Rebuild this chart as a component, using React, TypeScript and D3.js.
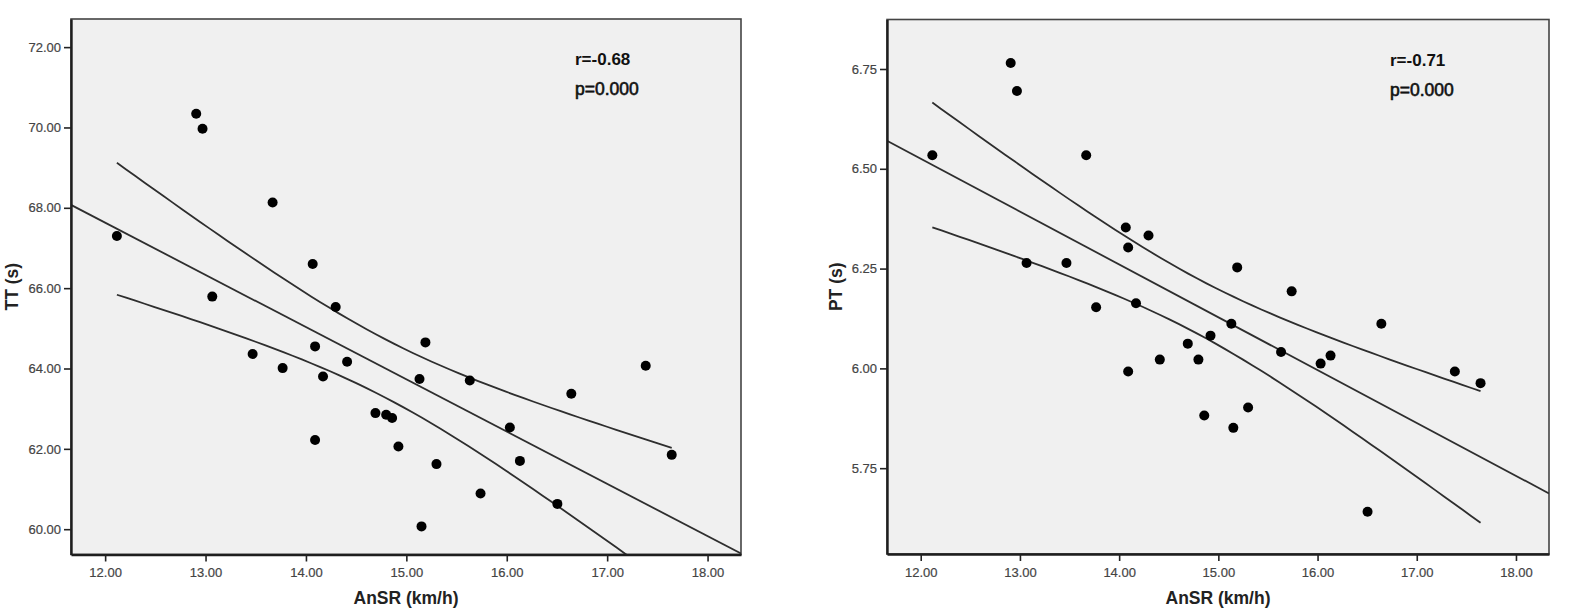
import { useEffect, useRef } from 'react';
import * as d3 from 'd3';

// AnSR (km/h), same athletes in both panels
const ansr = [
  12.117, 12.907, 12.970, 13.067, 13.469, 13.668, 13.768, 14.067, 14.091, 14.091,
  14.170, 14.296, 14.410, 14.692, 14.799, 14.858, 14.921, 15.131, 15.151, 15.190,
  15.300, 15.632, 15.739, 16.031, 16.131, 16.504, 16.643, 17.384, 17.643,
];

// TT (s)
const tt = [
  67.30, 70.34, 69.97, 65.79, 64.36, 68.13, 64.01, 66.60, 64.55, 62.22,
  63.80, 65.53, 64.17, 62.89, 62.85, 62.77, 62.06, 63.74, 60.07, 64.65,
  61.62, 63.70, 60.89, 62.53, 61.70, 60.63, 63.37, 64.07, 61.85,
];

// PT (s)
const pt = [
  6.534, 6.765, 6.695, 6.264, 6.264, 6.534, 6.153, 6.353, 6.303, 5.992,
  6.163, 6.333, 6.022, 6.062, 6.022, 5.882, 6.082, 6.112, 5.851, 6.253,
  5.902, 6.041, 6.193, 6.012, 6.032, 5.641, 6.112, 5.992, 5.963,
];

const xTicks = [12, 13, 14, 15, 16, 17, 18];
const ttTicks = [60, 62, 64, 66, 68, 70, 72];
const ptTicks = [5.75, 6.0, 6.25, 6.5, 6.75];

const xDomain: [number, number] = [11.66, 18.333];
const T_CRIT = 2.052; // t(0.975, df = 27)

const FONT = "'Liberation Sans', Arial, Helvetica, sans-serif";

interface PanelProps {
  id: string;
  xs: number[];
  ys: number[];
  yTicks: number[];
  yDomain: [number, number];
  yLabel: string;
  rText: string;
  pText: string;
  left: number;
  right: number;
  top: number;
  bottom: number;
  yTitleX: number;
  annX: number;
  annY: number;
}

function fit(xs: number[], ys: number[]) {
  const n = xs.length;
  const mx = d3.mean(xs) as number;
  const my = d3.mean(ys) as number;
  let sxx = 0, sxy = 0;
  xs.forEach((x, i) => {
    sxx += (x - mx) * (x - mx);
    sxy += (x - mx) * (ys[i] - my);
  });
  const b = sxy / sxx;
  const a = my - b * mx;
  let sse = 0;
  xs.forEach((x, i) => {
    const e = ys[i] - (a + b * x);
    sse += e * e;
  });
  const s = Math.sqrt(sse / (n - 2));
  const half = (x: number) => T_CRIT * s * Math.sqrt(1 / n + ((x - mx) * (x - mx)) / sxx);
  return { a, b, half };
}

function Panel(p: PanelProps) {
  const gRef = useRef<SVGGElement | null>(null);

  useEffect(() => {
    if (!gRef.current) return;
    const g = d3.select(gRef.current);
    g.selectAll('*').remove();

    const x = d3.scaleLinear().domain(xDomain).range([p.left, p.right]);
    const y = d3.scaleLinear().domain(p.yDomain).range([p.bottom, p.top]);

    g.append('rect')
      .attr('x', p.left)
      .attr('y', p.top)
      .attr('width', p.right - p.left)
      .attr('height', p.bottom - p.top)
      .attr('fill', '#f0f0f0')
      .attr('stroke', '#444')
      .attr('stroke-width', 1.6);

    g.append('clipPath')
      .attr('id', `clip-${p.id}`)
      .append('rect')
      .attr('x', p.left)
      .attr('y', p.top)
      .attr('width', p.right - p.left)
      .attr('height', p.bottom - p.top);

    const { a, b, half } = fit(p.xs, p.ys);
    const lines = g.append('g').attr('clip-path', `url(#clip-${p.id})`);

    const line = d3.line<number[]>().x(d => x(d[0])).y(d => y(d[1]));
    lines.append('path')
      .attr('d', line(xDomain.map(v => [v, a + b * v])))
      .attr('fill', 'none')
      .attr('stroke', '#2e2e2e')
      .attr('stroke-width', 1.8);

    const [x0, x1] = d3.extent(p.xs) as [number, number];
    const samples = d3.range(0, 61).map(i => x0 + ((x1 - x0) * i) / 60);
    [1, -1].forEach(sign => {
      lines.append('path')
        .attr('d', line(samples.map(v => [v, a + b * v + sign * half(v)])))
        .attr('fill', 'none')
        .attr('stroke', '#2e2e2e')
        .attr('stroke-width', 1.8);
    });

    g.append('g')
      .selectAll('circle')
      .data(p.xs.map((v, i) => [v, p.ys[i]]))
      .join('circle')
      .attr('cx', d => x(d[0]))
      .attr('cy', d => y(d[1]))
      .attr('r', 5)
      .attr('fill', '#000');

    const yAxis = g.append('g')
      .attr('transform', `translate(${p.left},0)`)
      .call(d3.axisLeft(y).tickValues(p.yTicks).tickFormat(d3.format('.2f')).tickSize(7).tickSizeOuter(0).tickPadding(3));
    const xAxis = g.append('g')
      .attr('transform', `translate(0,${p.bottom})`)
      .call(d3.axisBottom(x).tickValues(xTicks).tickFormat(d3.format('.2f')).tickSize(7).tickSizeOuter(0).tickPadding(6.5));

    [yAxis, xAxis].forEach(ax => {
      ax.select('.domain').attr('stroke', '#1e1e1e').attr('stroke-width', 2.4);
      ax.selectAll('.tick line').attr('stroke', '#222').attr('stroke-width', 1.6);
      ax.selectAll('.tick text')
        .attr('fill', '#444')
        .attr('stroke', '#444')
        .attr('stroke-width', 0.2)
        .style('font-family', FONT)
        .style('font-size', '13px');
    });

    g.append('text')
      .attr('transform', `translate(${p.yTitleX},${(p.top + p.bottom) / 2}) rotate(-90)`)
      .attr('text-anchor', 'middle')
      .style('font-family', FONT)
      .style('font-size', '17.5px')
      .style('font-weight', 'bold')
      .attr('fill', '#222')
      .text(p.yLabel);

    g.append('text')
      .attr('x', (p.left + p.right) / 2)
      .attr('y', 604)
      .attr('text-anchor', 'middle')
      .style('font-family', FONT)
      .style('font-size', '17.5px')
      .style('font-weight', 'bold')
      .attr('fill', '#222')
      .text('AnSR (km/h)');

    g.append('text')
      .attr('x', p.annX)
      .attr('y', p.annY)
      .style('font-family', FONT)
      .style('font-size', '17px')
      .style('font-weight', 'bold')
      .attr('fill', '#111')
      .text(p.rText);

    g.append('text')
      .attr('x', p.annX)
      .attr('y', p.annY + 30)
      .style('font-family', FONT)
      .style('font-size', '17.5px')
      .attr('fill', '#111')
      .attr('stroke', '#111')
      .attr('stroke-width', 0.6)
      .text(p.pText);
  }, [p]);

  return <g ref={gRef}></g>;
}

export default function App() {
  return (
    <svg
      width={1578}
      height={615}
      style={{ position: 'absolute', left: 0, top: 0, background: '#fff' }}
    >
      <Panel
        id="tt"
        xs={ansr}
        ys={tt}
        yTicks={ttTicks}
        yDomain={[59.37, 72.70]}
        yLabel="TT (s)"
        rText="r=-0.68"
        pText="p=0.000"
        left={71}
        right={741}
        top={19}
        bottom={554.5}
        yTitleX={18}
        annX={575}
        annY={65}
      />
      <Panel
        id="pt"
        xs={ansr}
        ys={pt}
        yTicks={ptTicks}
        yDomain={[5.535, 6.874]}
        yLabel="PT (s)"
        rText="r=-0.71"
        pText="p=0.000"
        left={887}
        right={1549}
        top={19.5}
        bottom={554}
        yTitleX={842}
        annX={1390}
        annY={66}
      />
    </svg>
  );
}
